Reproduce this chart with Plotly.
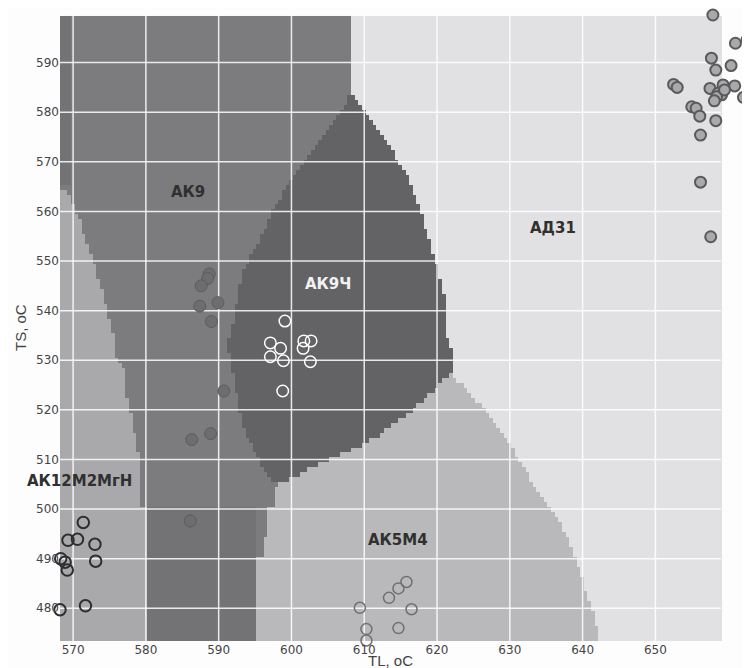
import numpy as np
import plotly.graph_objects as go

# ---------------- axis ticks ----------------
x_ticks = [570, 580, 590, 600, 610, 620, 630, 640, 650]
y_ticks = [480, 490, 500, 510, 520, 530, 540, 550, 560, 570, 580, 590]
map_x_range = [568.2, 659.0]     # extent of the shaded map
y_range = [473.4, 599.6]
x_axis_range = [568.2, 663.0]    # axis extends a bit so outlying points stay visible

# ---------------- region boundaries ----------------
# left edge of АД31 region (TS -> TL)
ad_y = [473.4, 474.7, 480.1, 484.2, 488.2, 490.9, 496.3, 501.6, 508.4, 513.1, 519.8, 521.5,
        526.9, 531.9, 535.3, 542.7, 548.2, 551.6, 559.7, 567.7, 573.8, 577.8, 583.9, 599.6]
ad_x = [642.5, 642.3, 641.4, 640.3, 639.6, 638.9, 637.3, 634.8, 631.8, 630.0, 626.6, 625.6,
        622.2, 622.0, 621.3, 621.1, 620.1, 619.4, 617.9, 615.8, 613.2, 611.4, 608.0, 608.2]
# left edge of АК9Ч region (TS -> TL)
dl_y = [505.0, 507.0, 509.0, 512.0, 516.0, 521.0, 526.0, 530.0, 534.0, 538.0, 543.0, 548.0,
        550.5, 553.6, 558.9, 563.7, 569.0, 573.7, 577.8, 583.8]
dl_x = [597.5, 596.5, 595.8, 594.8, 593.6, 592.6, 592.3, 591.5, 591.3, 592.0, 592.6, 593.4,
        594.2, 595.6, 597.0, 598.8, 601.1, 603.4, 605.7, 608.3]
# bottom edge of АК9Ч region (TL -> TS)
db_x = [597.5, 599.3, 601.1, 605.7, 611.4, 616.5, 619.7, 621.1, 622.2]
db_y = [505.0, 505.7, 507.0, 510.2, 514.3, 519.8, 524.2, 526.6, 527.2]
# left edge of АК5М4 region (TS -> TL)
a5_y = [473.4, 490.0, 490.6, 499.8, 500.4, 505.0]
a5_x = [595.2, 595.2, 596.2, 596.8, 597.6, 598.0]
# right edge of АК12М2МгН region (TS -> TL)
a12_y = [473.4, 500.0, 500.6, 509.7, 513.1, 518.5, 523.2, 528.6, 531.2, 535.3, 540.1, 545.5,
         550.9, 554.2, 558.3, 561.6, 564.3, 565.3]
a12_x = [580.1, 580.1, 579.4, 579.4, 578.7, 578.2, 577.3, 576.9, 575.5, 575.5, 574.6, 573.7,
         572.7, 571.8, 570.9, 569.8, 569.1, 568.0]
# darker sub-zones of АК9
band_low_x = [580.1, 595.2]
band_low_ytop = 500.3
band_top_xright = 569.8
band_top_ybottom = 565.3

region_colors = ['#e1e1e3', '#636365', '#b9b9bb', '#a9a9ab', '#737375', '#7c7c7e']

# ---------------- sample points ----------------
ad31_x = [657.9, 662.9, 662.6, 661.0, 657.7, 658.3, 660.4, 652.5, 653.0, 657.5, 659.3, 660.9,
          658.6, 659.1, 658.4, 659.5, 658.1, 662.1, 655.0, 655.6, 656.1, 658.3, 656.2, 656.2, 657.6]
ad31_y = [599.6, 597.3, 594.6, 593.9, 590.9, 588.5, 589.4, 585.6, 585.0, 584.8, 585.5, 585.3,
          583.8, 583.5, 583.1, 584.5, 582.3, 583.0, 581.1, 580.8, 579.2, 578.3, 575.4, 565.9, 554.9]
ak9ch_x = [599.1, 597.1, 598.5, 597.1, 598.9, 601.7, 602.7, 601.6, 602.6, 598.8]
ak9ch_y = [537.9, 533.5, 532.4, 530.7, 529.9, 533.9, 533.9, 532.4, 529.7, 523.8]
ak9_x = [588.7, 588.5, 587.6, 587.4, 589.9, 589.0, 590.7, 588.9, 586.3, 586.1]
ak9_y = [547.4, 546.5, 545.0, 540.9, 541.6, 537.8, 523.8, 515.2, 514.0, 497.6]
ak12_x = [571.4, 569.3, 570.6, 573.0, 568.3, 568.9, 569.2, 573.1, 568.2, 571.7]
ak12_y = [497.3, 493.7, 493.9, 492.9, 490.0, 489.3, 487.7, 489.5, 479.7, 480.5]
ak5_x = [615.8, 614.7, 613.4, 616.5, 609.4, 614.7, 610.3, 610.3]
ak5_y = [485.3, 484.0, 482.1, 479.8, 480.1, 476.0, 475.8, 473.5]

labels = ['АК9', 'АК9Ч', 'АД31', 'АК12М2МгН', 'АК5М4']
label_x = [585.8, 605.0, 635.9, 570.9, 614.7]
label_y = [564.0, 545.3, 556.6, 505.7, 493.8]
label_colors = ['#303030', '#f2f2f2', '#303030', '#303030', '#303030']

# ---------------- classification grid ----------------
dx, dy = 0.5, 1.0
gx = np.arange(map_x_range[0] + dx / 2, map_x_range[1], dx)
gy = np.arange(y_range[0] + dy / 2, y_range[1], dy)
X, Y = np.meshgrid(gx, gy)

b_ad = np.interp(Y, ad_y, ad_x)
b_dl = np.interp(Y, dl_y, dl_x)
b_db = np.interp(X, db_x, db_y)
b_a5 = np.interp(Y, a5_y, a5_x)
b_a12 = np.interp(Y, a12_y, a12_x)

Z = np.full(X.shape, 5)
band = (((X >= band_low_x[0]) & (X < band_low_x[1]) & (Y <= band_low_ytop)) |
        ((X < band_top_xright) & (Y > band_top_ybottom)))
Z[band] = 4
Z[(X < b_a12) & (Y < a12_y[-1])] = 3
Z[(X >= b_a5) & (Y <= b_db)] = 2
Z[(X >= b_dl) & (Y > b_db) & (Y <= dl_y[-1])] = 1
Z[X >= b_ad] = 0

n = len(region_colors)
cscale = []
for i, c in enumerate(region_colors):
    cscale.append([i / n, c])
    cscale.append([(i + 1) / n, c])

fig = go.Figure()
fig.add_trace(go.Heatmap(x=gx, y=gy, z=Z, colorscale=cscale, zmin=-0.5, zmax=n - 0.5,
                         showscale=False, hoverinfo='skip'))

# grid lines drawn above the region map
gxl, gyl = [], []
for t in x_ticks:
    gxl += [t, t, None]
    gyl += [y_range[0], y_range[1], None]
for t in y_ticks:
    gxl += [map_x_range[0], map_x_range[1], None]
    gyl += [t, t, None]
fig.add_trace(go.Scatter(x=gxl, y=gyl, mode='lines',
                         line=dict(color='rgba(255,255,255,0.85)', width=1.5),
                         hoverinfo='skip', showlegend=False))

def pts(x, y, size, fill, lcolor, lwidth):
    fig.add_trace(go.Scatter(x=x, y=y, mode='markers', cliponaxis=False, showlegend=False,
                             marker=dict(size=size, color=fill,
                                         line=dict(color=lcolor, width=lwidth))))

pts(ad31_x, ad31_y, 11, '#a9a9ab', '#5a5a5c', 2)
pts(ak9ch_x, ak9ch_y, 11.5, 'rgba(0,0,0,0)', '#ffffff', 1.5)
pts(ak9_x, ak9_y, 12, '#6d6d6f', '#5c5c5e', 1)
pts(ak12_x, ak12_y, 11.5, 'rgba(0,0,0,0)', '#2e2e30', 2)
pts(ak5_x, ak5_y, 11, 'rgba(0,0,0,0)', '#707072', 1.5)

for t, x, y, c in zip(labels, label_x, label_y, label_colors):
    fig.add_annotation(x=x, y=y, xref='x', yref='y', text=t, showarrow=False,
                       font=dict(family='DejaVu Sans', size=15, color=c, weight='bold'))

fig.add_annotation(xref='paper', yref='paper', x=0, y=0.5, xshift=-40, xanchor='center',
                   yanchor='middle', text='TS, oC', textangle=-90, showarrow=False,
                   font=dict(family='Liberation Sans', size=15, color='#444444'))
fig.add_annotation(xref='x', yref='paper', x=sum(map_x_range) / 2, y=0, yshift=-19,
                   xanchor='center', yanchor='middle', text='TL, oC', showarrow=False,
                   font=dict(family='Liberation Sans', size=15, color='#444444'))

fig.update_layout(
    width=742, height=660,
    margin=dict(l=52, r=0, t=7, b=27),
    paper_bgcolor='#fdfdfd', plot_bgcolor='#fdfdfd',
    showlegend=False,
    xaxis=dict(range=x_axis_range, tickvals=x_ticks, showgrid=False, zeroline=False,
               showline=False, ticks='', automargin=False,
               tickfont=dict(family='DejaVu Sans', size=12, color='#444444')),
    yaxis=dict(range=y_range, tickvals=y_ticks, showgrid=False, zeroline=False,
               showline=False, ticks='', automargin=False,
               tickfont=dict(family='DejaVu Sans', size=12, color='#444444')),
)

fig.write_html('out.html')
